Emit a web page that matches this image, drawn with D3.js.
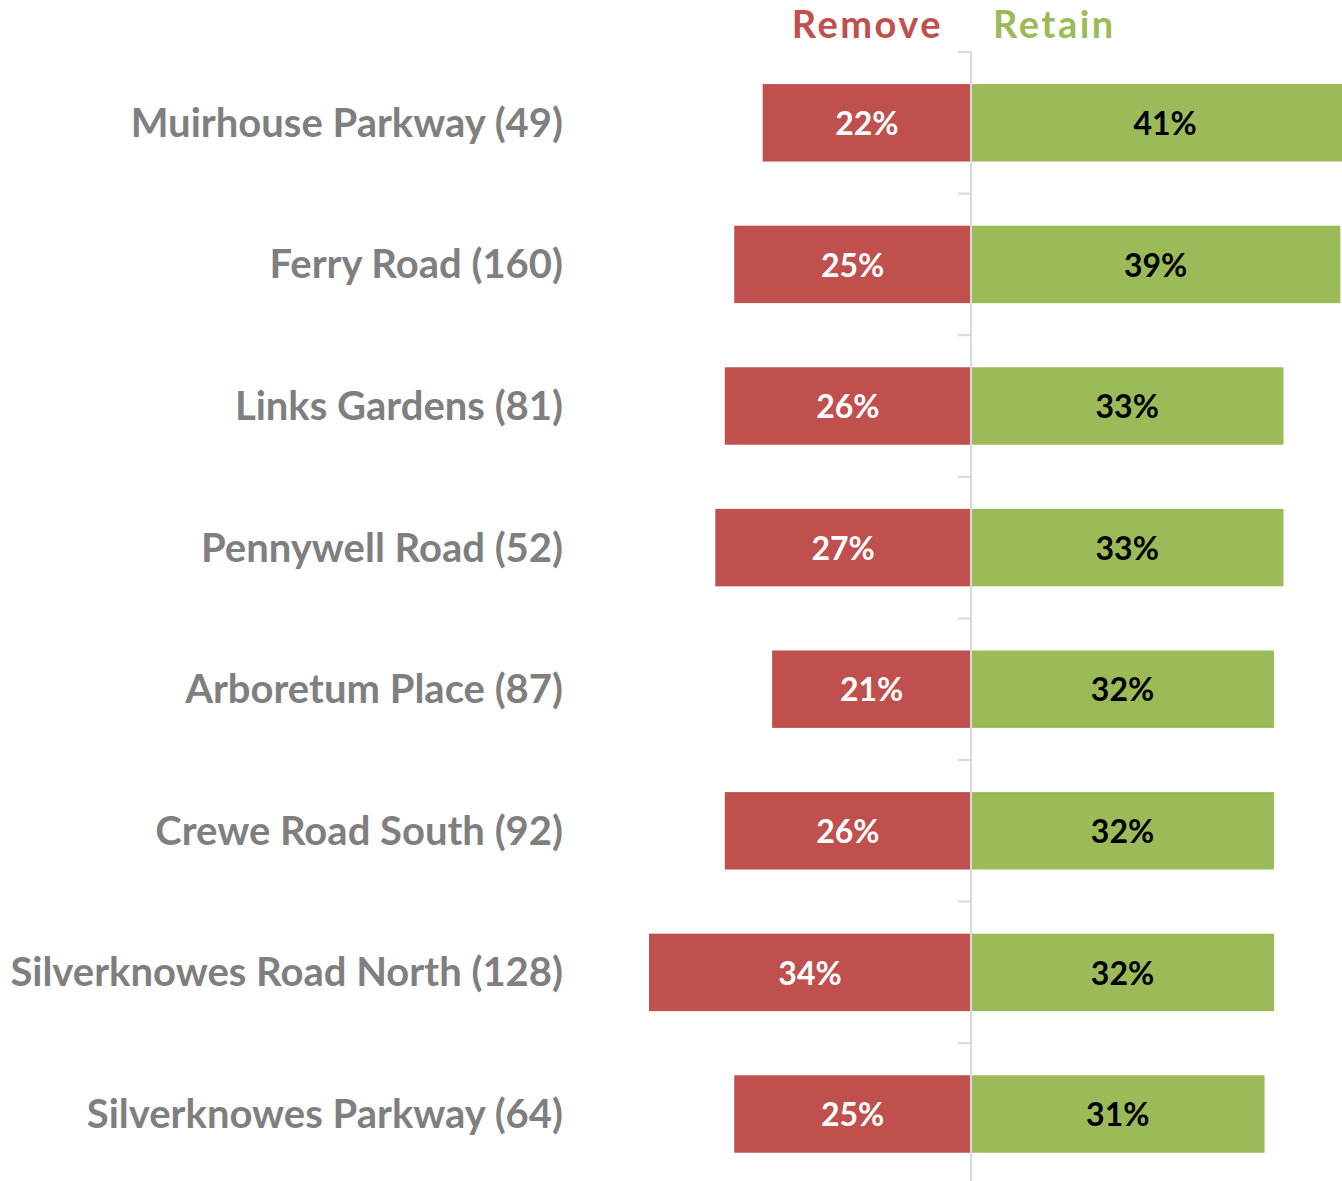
<!DOCTYPE html>
<html>
<head>
<meta charset="utf-8">
<script src="https://cdn.jsdelivr.net/npm/d3@7"></script>
<style>
	body { margin: 0; background: #fff; overflow: hidden; }
	svg { display: block; }
	text { font-family: Lato, "Open Sans", sans-serif; font-weight: bold; }
</style>
</head>
<body>
<div id="main"></div>
<script>
// data
var streets = ["Muirhouse Parkway (49)", "Ferry Road (160)", "Links Gardens (81)", "Pennywell Road (52)",
	"Arboretum Place (87)", "Crewe Road South (92)", "Silverknowes Road North (128)", "Silverknowes Parkway (64)"];
var removePct = [22, 25, 26, 27, 21, 26, 34, 25];
var retainPct = [41, 39, 33, 33, 32, 32, 32, 31];
var seriesNames = ["Remove", "Retain"];
var seriesColors = ["#c0504d", "#9bbb59"];

var width = 1342, height = 1181;

var svg = d3.select("#main").append("svg")
	.attr("width", width)
	.attr("height", height);

// 0 sits at x=971, about 9.47px per percent
var x = d3.scaleLinear()
	.domain([-40, 40])
	.range([971 - 378.8, 971 + 378.8]);

var y = d3.scaleBand()
	.domain(streets)
	.range([52, 52 + 8 * 141.6])
	.paddingInner(0.453)
	.paddingOuter(0.2265);

var rows = streets.map(function(s, i) {
	return { name: s, remove: removePct[i], retain: retainPct[i] };
});

// remove bars (to the left)
svg.selectAll("rect.remove")
	.data(rows)
	.enter().append("rect")
	.attr("class", "remove")
	.attr("x", function(d) { return x(-d.remove); })
	.attr("y", function(d) { return y(d.name); })
	.attr("width", function(d) { return x(0) - x(-d.remove); })
	.attr("height", y.bandwidth())
	.attr("fill", seriesColors[0]);

// retain bars (to the right)
svg.selectAll("rect.retain")
	.data(rows)
	.enter().append("rect")
	.attr("class", "retain")
	.attr("x", x(0))
	.attr("y", function(d) { return y(d.name); })
	.attr("width", function(d) { return x(d.retain) - x(0); })
	.attr("height", y.bandwidth())
	.attr("fill", seriesColors[1]);

// centre axis with ticks between rows
var axisG = svg.append("g")
	.attr("transform", "translate(" + x(0) + ",0)");
axisG.append("line")
	.attr("x1", 0).attr("x2", 0)
	.attr("y1", 52).attr("y2", height)
	.attr("stroke", "#d9d9d9")
	.attr("stroke-width", 2);
var bounds = d3.range(streets.length + 1).map(function(i) { return 52 + i * y.step(); });
axisG.selectAll("line.tick")
	.data(bounds)
	.enter().append("line")
	.attr("class", "tick")
	.attr("x1", -13).attr("x2", 0)
	.attr("y1", function(d) { return d; })
	.attr("y2", function(d) { return d; })
	.attr("stroke", "#d9d9d9")
	.attr("stroke-width", 2);

// category labels
svg.selectAll("text.cat")
	.data(rows)
	.enter().append("text")
	.attr("class", "cat")
	.attr("x", 563)
	.attr("y", function(d) { return y(d.name) + y.bandwidth() / 2; })
	.attr("dy", "0.35em")
	.attr("text-anchor", "end")
	.attr("fill", "#7f7f7f")
	.style("font-size", "40px")
	.text(function(d) { return d.name; });

// value labels
svg.selectAll("text.remval")
	.data(rows)
	.enter().append("text")
	.attr("class", "remval")
	.attr("x", function(d) { return (x(-d.remove) + x(0)) / 2; })
	.attr("y", function(d) { return y(d.name) + y.bandwidth() / 2; })
	.attr("dy", "0.38em")
	.attr("text-anchor", "middle")
	.attr("fill", "#fff")
	.style("font-size", "32px")
	.text(function(d) { return d.remove + "%"; });

svg.selectAll("text.retval")
	.data(rows)
	.enter().append("text")
	.attr("class", "retval")
	.attr("x", function(d) { return (x(d.retain) + x(0)) / 2; })
	.attr("y", function(d) { return y(d.name) + y.bandwidth() / 2; })
	.attr("dy", "0.38em")
	.attr("text-anchor", "middle")
	.attr("fill", "#000")
	.style("font-size", "32px")
	.text(function(d) { return d.retain + "%"; });

// legend headers
svg.append("text")
	.attr("x", x(0) - 28)
	.attr("y", 38)
	.attr("text-anchor", "end")
	.attr("fill", seriesColors[0])
	.style("font-size", "38px")
	.style("letter-spacing", "2.5px")
	.text(seriesNames[0]);
svg.append("text")
	.attr("x", x(0) + 22)
	.attr("y", 38)
	.attr("text-anchor", "start")
	.attr("fill", seriesColors[1])
	.style("font-size", "38px")
	.style("letter-spacing", "2.5px")
	.text(seriesNames[1]);
</script>
</body>
</html>
